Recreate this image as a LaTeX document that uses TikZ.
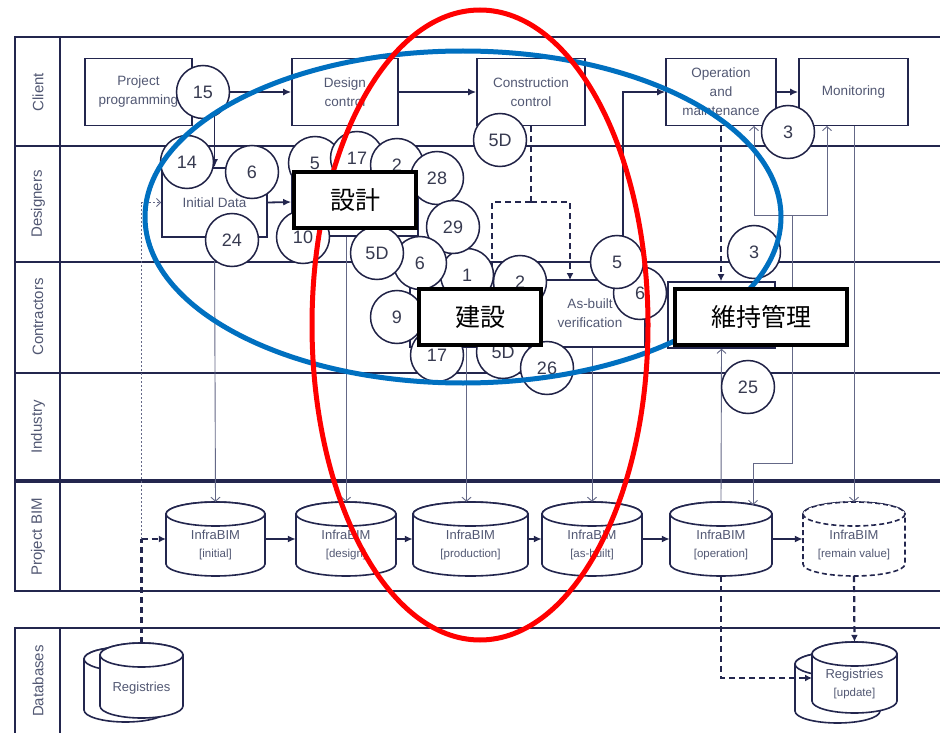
\documentclass[tikz,border=0pt]{standalone}
\usepackage{fontspec}
\setmainfont{Liberation Sans}
\newfontfamily\jpfont{Noto Sans CJK JP}
\usetikzlibrary{arrows.meta,calc}
\definecolor{navy}{RGB}{35,38,78}
\definecolor{txtc}{RGB}{82,88,115}
\definecolor{numc}{RGB}{55,58,80}
\definecolor{thinc}{RGB}{100,104,135}
\definecolor{bluec}{RGB}{0,112,192}
\newcommand\drawcyl[5][]{%
  \pgfmathsetmacro\cylL{#2-#4/2}\pgfmathsetmacro\cylR{#2+#4/2}%
  \pgfmathsetmacro\cylT{#3-#5/2+12}\pgfmathsetmacro\cylB{#3+#5/2-12}%
  \pgfmathsetmacro\cylX{#4/2}%
  \filldraw[cylst,#1] (\cylL,\cylT) -- (\cylL,\cylB) arc[start angle=180,end angle=0,x radius=\cylX,y radius=12] -- (\cylR,\cylT) arc[start angle=0,end angle=-180,x radius=\cylX,y radius=12] -- cycle;
  \draw[cylst,#1] (#2,\cylT) ellipse[x radius=\cylX,y radius=12];
}
\begin{document}
\begin{tikzpicture}[x=1pt,y=-1pt,
  lane/.style={draw=navy,line width=2pt},
  lanelbl/.style={rotate=90,text=txtc,font=\fontsize{15}{15}\selectfont},
  procbox/.style={draw=navy,line width=1.6pt,fill=white,text=txtc,align=center,
    font=\fontsize{13.5}{19}\selectfont,minimum height=67pt,inner sep=0pt},
  hidbox/.style={draw=navy,line width=1.6pt,fill=white,inner sep=0pt},
  num/.style={circle,draw=navy!90!black,line width=1.5pt,fill=white,minimum size=53pt,
    inner sep=0pt,text=numc,font=\fontsize{18}{18}\selectfont},
  jbox/.style={draw=black,line width=4pt,fill=white,minimum height=56pt,inner sep=0pt,
    font=\jpfont\fontsize{25}{25}\selectfont},
  cylst/.style={draw=navy,line width=1.6pt,fill=white},
  anch/.style={draw=none,inner sep=0pt,minimum height=74pt},
  cyltxt/.style={text=txtc,align=center,font=\fontsize{13}{18}\selectfont,inner sep=0pt},
  flow/.style={draw=navy,line width=1.8pt,-{Latex[length=8pt,width=7pt]}},
  dflow/.style={draw=navy,line width=2.2pt,dash pattern=on 6pt off 4pt,-{Latex[length=7pt,width=7pt]}},
  dline/.style={draw=navy,line width=2.2pt,dash pattern=on 6pt off 4pt},
  thinl/.style={draw=thinc,line width=0.9pt},
  tarr/.style={-{Straight Barb[length=4pt,width=9pt]}},
  dotl/.style={draw=thinc,line width=1pt,dash pattern=on 2pt off 2pt,-{Straight Barb[length=4pt,width=8pt]}}
]
\useasboundingbox (0,0) rectangle (940,733);
\fill[white] (0,0) rectangle (940,733);

% lanes
\draw[lane] (15,37) rectangle (948,591);
\draw[lane] (60,37) -- (60,591);
\draw[lane] (15,146) -- (948,146);
\draw[lane] (15,262) -- (948,262);
\draw[lane] (15,373) -- (948,373);
\draw[navy,line width=4.5pt] (15,481) -- (948,481);
\draw[lane] (15,628) rectangle (948,745);
\draw[lane] (60,628) -- (60,745);
\node[lanelbl] (lc) at (38,92) {Client};
\node[lanelbl] (ld) at (38,204) {Designers};
\node[lanelbl] (lco) at (38,317) {Contractors};
\node[lanelbl] (li) at (38,427) {Industry};
\node[lanelbl] (lp) at (38,537) {Project BIM};
\node[lanelbl] (ldb) at (38,681) {Databases};

% process boxes
\node[procbox,minimum width=107pt] (pp) at (138.5,92) {Project\\programming};
\node[procbox,minimum width=106pt] (dc) at (345,92) {Design\\control};
\node[procbox,minimum width=108pt] (cc) at (531,92) {Construction\\control};
\node[procbox,minimum width=110pt] (om) at (721,92) {Operation\\and\\maintenance};
\node[procbox,minimum width=109pt] (mon) at (853.5,92) {Monitoring};
\node[procbox,minimum width=105pt,minimum height=69pt] (ini) at (214.5,202.5) {Initial Data};
\node[hidbox,minimum width=126pt,minimum height=68pt] (des) at (355,202) {};
\node[hidbox,minimum width=130pt,minimum height=67pt] (prod) at (475,313.5) {};
\node[procbox,minimum width=110pt] (asb) at (590,313.5) {As-built\\verification};
\node[hidbox,minimum width=107pt,minimum height=66pt] (mnt) at (721.5,315) {};

% cylinders
\drawcyl{215.5}{539}{99}{74}
\drawcyl{346}{539}{100}{74}
\drawcyl{470.5}{539}{115}{74}
\drawcyl{592}{539}{100}{74}
\drawcyl{721}{539}{102}{74}
\drawcyl[dash pattern=on 5pt off 3pt]{854}{539}{102}{74}
\node[anch,minimum width=99pt] (ib1) at (215.5,539) {};
\node[anch,minimum width=100pt] (ib2) at (346,539) {};
\node[anch,minimum width=115pt] (ib3) at (470.5,539) {};
\node[anch,minimum width=100pt] (ib4) at (592,539) {};
\node[anch,minimum width=102pt] (ib5) at (721,539) {};
\node[anch,minimum width=102pt] (ib6) at (854,539) {};
\node[cyltxt] (ib1t) at (215.5,545) {InfraBIM\\{\fontsize{11.5}{14}\selectfont[initial]}};
\node[cyltxt] (ib2t) at (346,545) {InfraBIM\\{\fontsize{11.5}{14}\selectfont[design]}};
\node[cyltxt] (ib3t) at (470.5,545) {InfraBIM\\{\fontsize{11.5}{14}\selectfont[production]}};
\node[cyltxt] (ib4t) at (592,545) {InfraBIM\\{\fontsize{11.5}{14}\selectfont[as-built]}};
\node[cyltxt] (ib5t) at (721,545) {InfraBIM\\{\fontsize{11.5}{14}\selectfont[operation]}};
\node[cyltxt] (ib6t) at (854,545) {InfraBIM\\{\fontsize{11.5}{14}\selectfont[remain value]}};

% registries
\drawcyl{125.5}{684.5}{83}{75}
\drawcyl{141.5}{680.5}{83}{75}
\node[anch,minimum width=83pt,minimum height=75pt] (reg) at (141.5,680.5) {};
\node[cyltxt] (regt) at (141.5,688) {Registries};
\drawcyl{837.5}{687.5}{85}{71}
\drawcyl{854.5}{677.5}{85}{71}
\node[anch,minimum width=85pt,minimum height=71pt] (regu) at (854.5,677.5) {};
\node[cyltxt] (regut) at (854.5,684) {Registries\\{\fontsize{11.5}{14}\selectfont[update]}};

% coordinates for taps
\coordinate (asbtap) at (623,280);
\coordinate (split) at (531,202);
\coordinate (dl) at (492,280);
\coordinate (dr) at (570,280);
\coordinate (ib5tap) at (753,505);
\coordinate (j2) at (792,463);
\coordinate (j3) at (792,215);
\coordinate (omtap) at (754,126);
\coordinate (montap) at (827,126);
\coordinate (regutap) at (812,678);

% client flow
\draw[flow] (pp.east) -- (dc.west);
\draw[flow] (dc.east) -- (cc.west);
\draw[flow] (om.east) -- (mon.west);
\draw[flow] (asbtap) |- (om.west);
\draw[flow] (ini.north |- pp.east) -- (ini.north);
\draw[flow] (ini.east) -- (des.west);
% dashed
\draw[dline] (cc.south) -- (split);
\draw[dflow] (split) -| (dl);
\draw[dflow] (split) -| (dr);
\draw[dflow] (om.south) -- (om.south |- mnt.north);
\draw[dline] (reg.north) -- (reg.north |- ib1.west);
\draw[dflow] (reg.north |- ib1.west) -- (ib1.west);
\draw[dotl] (reg.north |- ib1.west) |- (ini.west);
\draw[dflow] (ib5.south) |- (regutap);
\draw[dflow] (ib6.south) -- (regu.north);
% thin lines
\draw[thinl,tarr] (ini.south) -- (ib1.north);
\draw[thinl,tarr] (ib2.north |- des.south) -- (ib2.north);
\draw[thinl,tarr] ($(ib3.north |- prod.south)+(-4,0)$) -- ($(ib3.north)+(-4,0)$);
\draw[thinl,tarr] (ib4.north |- asb.south) -- (ib4.north);
\draw[thinl,tarr,{Straight Barb[length=4pt,width=9pt]}-] (mnt.south) -- (ib5.north);
\draw[thinl,{Straight Barb[length=4pt,width=9pt]}-] (ib5tap) |- (j2) -- (j3);
\draw[thinl,tarr] (j3) -| (omtap);
\draw[thinl,tarr] (j3) -| (montap);
\draw[thinl,tarr] (mon.south -| ib6.north) -- (ib6.north);
% flow between cylinders
\draw[flow] (ib1.east) -- (ib2.west);
\draw[flow] (ib2.east) -- (ib3.west);
\draw[flow] (ib3.east) -- (ib4.west);
\draw[flow] (ib4.east) -- (ib5.west);
\draw[flow] (ib5.east) -- (ib6.west);

% numbered circles
\node[num] (n15) at (203,92) {15};
\node[num] (n5Da) at (500,140) {5D};
\node[num] (n3a) at (788,132) {3};
\node[num] (n14) at (187,162) {14};
\node[num] (n6a) at (252,172) {6};
\node[num] (n24) at (232,240) {24};
\node[num] (n5a) at (315,163) {5};
\node[num] (n17a) at (357,158) {17};
\node[num] (n2a) at (397,165) {2};
\node[num] (n28) at (437,178) {28};
\node[num] (n10) at (303,237) {10};
\node[num] (n1) at (467,275) {1};
\node[num] (n29) at (453,227) {29};
\node[num] (n6b) at (420,263) {6};
\node[num] (n5Db) at (377,253) {5D};
\node[num] (n2b) at (520,282) {2};
\node[num] (n9) at (397,317) {9};
\node[num] (n17b) at (437,355) {17};
\node[num] (n5Dc) at (503,352) {5D};
\node[num] (n26) at (547,368) {26};
\node[num] (n6c) at (640,293) {6};
\node[num] (n5b) at (617,262) {5};
\node[num] (n3b) at (754,252) {3};
\node[num] (n25) at (748,387) {25};

% highlight ellipses
\draw[bluec,line width=5pt] (463,217) ellipse[x radius=318,y radius=166];
\draw[red,line width=5pt] (480,325) ellipse[x radius=168,y radius=315];

% japanese labels
\node[jbox,minimum width=122pt] (jd) at (355,200) {設計};
\node[jbox,minimum width=122pt] (jc) at (480,317) {建設};
\node[jbox,minimum width=172pt] (jm) at (761,317) {維持管理};
\end{tikzpicture}
\end{document}
